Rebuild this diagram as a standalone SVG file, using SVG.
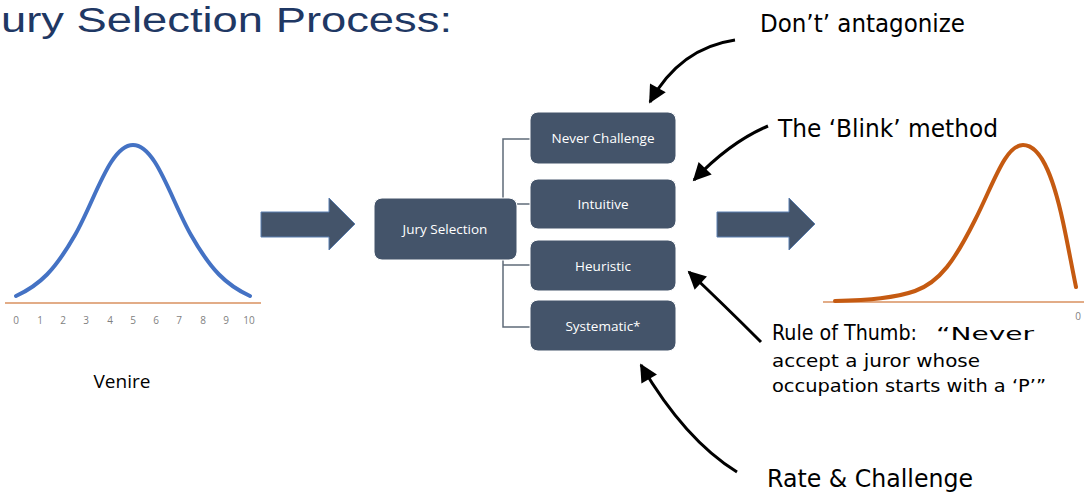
<svg xmlns="http://www.w3.org/2000/svg" width="1084" height="495" viewBox="0 0 1084 495">
  <style>
    .title { font-family: "Liberation Sans", "Open Sans", sans-serif; font-weight: 400; font-size: 35px; fill: #1F3864; }
    .tick { font-family: "Open Sans", "Liberation Sans", sans-serif; font-size: 10px; fill: #7F7F7F; text-anchor: middle; }
    .label { font-family: "Open Sans", "Liberation Sans", sans-serif; font-size: 19px; fill: #000; text-anchor: middle; }
    .box { fill: #44546A; stroke: #ffffff; stroke-width: 1; }
    .boxtext { font-family: "Open Sans", "Liberation Sans", sans-serif; font-size: 13.5px; fill: #ffffff; text-anchor: middle; dominant-baseline: central; }
    .link { fill: none; stroke: #5F6B78; stroke-width: 1.5; }
    .block { fill: #44546A; stroke: #5B7FB0; stroke-width: 1; }
    .note { font-family: "DejaVu Sans", "Liberation Sans", sans-serif; font-size: 24px; fill: #000; }
    .note-c { font-family: "DejaVu Sans Condensed", "DejaVu Sans", sans-serif; font-stretch: condensed; font-size: 22px; fill: #000; }
    .note-s { font-family: "DejaVu Sans", "Liberation Sans", sans-serif; font-size: 18px; fill: #000; }
    .callout { fill: none; stroke: #000; stroke-width: 3; marker-end: url(#head); }
    .axis { stroke: #C55A11; stroke-width: 1.2; }
  </style>
  <defs>
    <marker id="head" viewBox="0 0 10 10" refX="9" refY="5" markerWidth="20" markerHeight="18" markerUnits="userSpaceOnUse" orient="auto">
      <path d="M0,0 L10,5 L0,10 Z" fill="#000"/>
    </marker>
  </defs>

  <text class="title" x="1" y="32" textLength="451" lengthAdjust="spacingAndGlyphs">ury Selection Process:</text>

  <!-- Venire distribution -->
  <g id="venire">
    <line class="axis" x1="5" y1="303" x2="261" y2="303"/>
    <path d="M16,296 C40,285 55,270 75,235 C95,200 110,145 133,145 C156,145 171,200 191,235 C211,270 226,285 250,296" fill="none" stroke="#4472C4" stroke-width="4" stroke-linecap="round"/>
    <g>
      <text class="tick" x="16" y="324">0</text>
      <text class="tick" x="40" y="324">1</text>
      <text class="tick" x="63" y="324">2</text>
      <text class="tick" x="86" y="324">3</text>
      <text class="tick" x="110" y="324">4</text>
      <text class="tick" x="133" y="324">5</text>
      <text class="tick" x="156" y="324">6</text>
      <text class="tick" x="179" y="324">7</text>
      <text class="tick" x="203" y="324">8</text>
      <text class="tick" x="226" y="324">9</text>
      <text class="tick" x="249" y="324">10</text>
    </g>
    <text class="label" x="122" y="388">Venire</text>
  </g>

  <!-- Block arrows -->
  <g id="arrow-in">
    <path class="block" d="M261,212 H329 V198 L355,224 L329,250 V237 H261 Z"/>
  </g>
  <g id="arrow-out">
    <path class="block" d="M717,212 H789 V198 L815,224 L789,250 V237 H717 Z"/>
  </g>

  <!-- Tree connectors -->
  <g id="connectors">
    <path class="link" d="M503,198 V139 H530"/>
    <path class="link" d="M517,204 H530"/>
    <path class="link" d="M503,260 V327 H530"/>
    <path class="link" d="M503,265 H530"/>
  </g>

  <g id="jury-selection">
    <rect class="box" x="374" y="198" width="143" height="62" rx="8"/>
    <text class="boxtext" x="445" y="229">Jury Selection</text>
  </g>
  <g id="never-challenge">
    <rect class="box" x="530" y="112" width="146" height="52" rx="8"/>
    <text class="boxtext" x="603" y="138">Never Challenge</text>
  </g>
  <g id="intuitive">
    <rect class="box" x="530" y="179" width="146" height="50" rx="8"/>
    <text class="boxtext" x="603" y="204">Intuitive</text>
  </g>
  <g id="heuristic">
    <rect class="box" x="530" y="240" width="146" height="51" rx="8"/>
    <text class="boxtext" x="603" y="266">Heuristic</text>
  </g>
  <g id="systematic">
    <rect class="box" x="530" y="300" width="146" height="51" rx="8"/>
    <text class="boxtext" x="603" y="326">Systematic*</text>
  </g>

  <!-- Selected jury distribution -->
  <g id="selected">
    <line class="axis" x1="823" y1="302" x2="1084" y2="302"/>
    <path d="M835,301 C870,300 895,298 915,291 C940,282 955,260 975,220 C993,185 1005,145 1023,145 C1043,145 1055,185 1063,222 C1068,245 1072,268 1076,287" fill="none" stroke="#C55A11" stroke-width="4" stroke-linecap="round"/>
    <text class="tick" x="1078" y="320">0</text>
  </g>

  <!-- Callouts -->
  <g id="callout-antagonize">
    <path class="callout" d="M735,40 Q680,48 650,102"/>
    <text class="note" x="760" y="32" textLength="205" lengthAdjust="spacingAndGlyphs">Don’t’ antagonize</text>
  </g>
  <g id="callout-blink">
    <path class="callout" d="M768,126 Q730,142 694,180"/>
    <text class="note" x="778" y="137" textLength="220" lengthAdjust="spacingAndGlyphs">The ‘Blink’ method</text>
  </g>
  <g id="callout-rule">
    <path class="callout" d="M761,342 Q722,303 689,272"/>
    <text class="note-c" x="772" y="340" textLength="145" lengthAdjust="spacingAndGlyphs">Rule of Thumb:</text>
    <text class="note-s" x="936" y="340" font-size="19" textLength="98" lengthAdjust="spacingAndGlyphs">“Never</text>
    <text class="note-s" x="772" y="367" textLength="208" lengthAdjust="spacingAndGlyphs">accept a juror whose</text>
    <text class="note-s" x="772" y="392" textLength="274" lengthAdjust="spacingAndGlyphs">occupation starts with a ‘P’”</text>
  </g>
  <g id="callout-rate">
    <path class="callout" d="M737,472 Q685,440 641,365"/>
    <text class="note" x="767" y="487" textLength="206" lengthAdjust="spacingAndGlyphs">Rate &amp; Challenge</text>
  </g>
</svg>
